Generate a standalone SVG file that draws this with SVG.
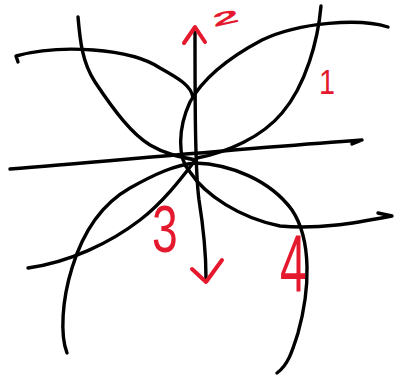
<svg xmlns="http://www.w3.org/2000/svg" width="395" height="376" viewBox="0 0 395 376">
<style>
.k{fill:none;stroke:#000;stroke-width:3.4;stroke-linecap:round;stroke-linejoin:round}
.r{fill:none;stroke:#e5192e;stroke-width:4;stroke-linecap:round;stroke-linejoin:round}
.t{fill:#e5192e;font-family:"Liberation Sans",Arial,sans-serif}
</style>
<rect width="395" height="376" fill="#fff"/>
<g id="curves">
<path class="k" d="M10,169 C120,160 250,148 362,140 L352,144"/>
<path class="k" d="M195,28 C195,100 195,170 199,200 C203,225 206,250 206,278"/>
<path class="k" d="M18,62 L16,56 C60,44 130,48 160,68 C178,78 192,86 193,98"/>
<path class="k" d="M388,27 C360,18 300,22 262,40 C228,58 202,80 190,102 C178,128 177,158 190,172 C205,195 240,218 280,226 C320,230 360,222 392,216 L378,213"/>
<path class="k" d="M78,17 C80,40 82,62 95,82 C115,112 132,134 150,145 C165,154 180,157 196,160"/>
<path class="k" d="M321,6 C318,40 306,85 282,113 C262,137 228,152 197,158 C186,172 166,200 140,220 C110,243 70,262 28,268"/>
<path class="k" d="M67,353 C60,335 62,300 72,268 C82,235 100,205 130,188 C155,174 175,165 195,163 C230,164 270,180 292,210 C312,240 310,290 298,333 C292,352 288,365 277,373"/>
</g>
<g id="arrows">
<path class="r" d="M184,43 L195,27 L205,42"/>
<path class="r" d="M192,269 L206,282 L222,260"/>
</g>
<g id="labels">
<text class="t" x="0" y="0" font-size="30" font-weight="bold" transform="translate(214,27) rotate(-12) scale(1.6,0.62)">2</text>
<text class="t" x="0" y="0" font-size="36" transform="translate(319,94) scale(0.8,1)">1</text>
<text class="t" x="0" y="0" font-size="66" transform="translate(152,252) scale(0.7,1)">3</text>
<text class="t" x="0" y="0" font-size="82" transform="translate(280,292) scale(0.58,1)">4</text>
</g>
</svg>
